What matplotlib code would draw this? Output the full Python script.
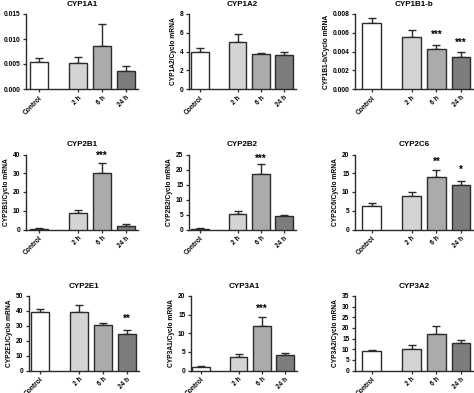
import matplotlib
matplotlib.use("Agg")
import matplotlib.pyplot as plt
import numpy as np

plt.rcParams['font.family'] = ['Liberation Sans', 'DejaVu Sans']
plt.rcParams['font.weight'] = 'bold'

groups = ["Control", "2 h", "6 h", "24 h"]
genes = ["CYP1A1", "CYP1A2", "CYP1B1-b",
         "CYP2B1", "CYP2B2", "CYP2C6",
         "CYP2E1", "CYP3A1", "CYP3A2"]

cyp1a1_mean = [0.0055, 0.0053, 0.0087, 0.0036]
cyp1a1_err = [0.0007, 0.0012, 0.0043, 0.0011]
cyp1a2_mean = [3.98, 4.98, 3.74, 3.60]
cyp1a2_err = [0.40, 0.86, 0.14, 0.30]
cyp1b1_mean = [0.00704, 0.0056, 0.00429, 0.00339]
cyp1b1_err = [0.0005, 0.0007, 0.0004, 0.00054]
cyp2b1_mean = [0.4, 8.75, 30.2, 2.1]
cyp2b1_err = [0.2, 1.75, 5.3, 0.8]
cyp2b2_mean = [0.33, 5.2, 18.5, 4.4]
cyp2b2_err = [0.2, 1.1, 3.2, 0.6]
cyp2c6_mean = [6.2, 8.9, 14.0, 11.8]
cyp2c6_err = [1.0, 1.1, 1.9, 1.1]
cyp2e1_mean = [39.3, 39.5, 30.4, 24.6]
cyp2e1_err = [1.8, 4.7, 1.7, 2.9]
cyp3a1_mean = [1.06, 3.6, 11.9, 4.2]
cyp3a1_err = [0.25, 0.7, 2.5, 0.4]
cyp3a2_mean = [9.1, 10.2, 17.1, 13.0]
cyp3a2_err = [0.5, 1.9, 3.8, 1.3]

stars = [
    ["", "", "", ""], ["", "", "", ""], ["", "", "***", "***"],
    ["", "", "***", ""], ["", "", "***", ""], ["", "", "**", "*"],
    ["", "", "", "**"], ["", "", "***", ""], ["", "", "", ""],
]
ymax = [0.015, 8, 0.008, 40, 25, 20, 50, 20, 35]
ystep = [0.005, 2, 0.002, 10, 5, 5, 10, 5, 5]
yfmt = ["{:.3f}", "{:g}", "{:.3f}", "{:g}", "{:g}", "{:g}", "{:g}", "{:g}", "{:g}"]
star_y = [None, None, [None, None, 0.00583, 0.00494], [None, None, 39.2, None],
          [None, None, 23.6, None], [None, None, 18.0, 15.9], [None, None, None, 34.8],
          [None, None, 16.6, None], None]

means = [cyp1a1_mean, cyp1a2_mean, cyp1b1_mean, cyp2b1_mean, cyp2b2_mean,
         cyp2c6_mean, cyp2e1_mean, cyp3a1_mean, cyp3a2_mean]
errs = [cyp1a1_err, cyp1a2_err, cyp1b1_err, cyp2b1_err, cyp2b2_err,
        cyp2c6_err, cyp2e1_err, cyp3a1_err, cyp3a2_err]

xpos = np.array([0, 1.625, 2.625, 3.625])
colors = ["#ffffff", "#d4d4d4", "#ababab", "#7d7d7d"]
edge = "#2b2b2b"

W, H = 474, 393
fig = plt.figure(figsize=(W / 100, H / 100), dpi=100)

col_left = [[26, 189, 355], [26, 189, 355], [29, 191, 355]]
col_ppu = [24.0, 23.2, 24.7]
col_ctrl = [[39, 200, 371.5], [39, 200, 371.5], [40, 201, 371.5]]
row_tb = [(14, 89), (154.5, 229.5), (296, 370.5)]

for i, gene in enumerate(genes):
    r, c = divmod(i, 3)
    left = col_left[r][c]
    ppu = col_ppu[c]
    ctrl = col_ctrl[r][c]
    xl = -(ctrl - left) / ppu
    xr = 4.125
    width_px = (xr - xl) * ppu
    top, bot = row_tb[r]
    ax = fig.add_axes([left / W, 1 - bot / H, width_px / W, (bot - top) / H])
    ax.bar(xpos, means[i], width=0.75, color=colors, edgecolor=edge, linewidth=1.0, zorder=3)
    ax.errorbar(xpos, means[i], yerr=[np.zeros(4), errs[i]], fmt='none',
                ecolor=edge, elinewidth=1.0, capsize=3, capthick=1.0, zorder=2)
    ax.set_xlim(xl, xr)
    ax.set_ylim(0, ymax[i])
    ticks = np.arange(0, ymax[i] + ystep[i] / 2, ystep[i])
    ax.set_yticks(ticks)
    ax.set_yticklabels([yfmt[i].format(t) for t in ticks], fontsize=4.8, fontweight='bold')
    ax.set_xticks(xpos)
    ax.set_xticklabels(groups, rotation=45, ha='right', rotation_mode='anchor',
                       fontsize=4.8, fontweight='bold')
    ax.tick_params(axis='both', length=2.5, width=0.9, pad=1.5, color=edge)
    for s in ['top', 'right']:
        ax.spines[s].set_visible(False)
    for s in ['left', 'bottom']:
        ax.spines[s].set_linewidth(1.0)
        ax.spines[s].set_color(edge)
    ax.set_title(gene, fontsize=5.8, fontweight='bold', pad=6)
    ax.set_ylabel(gene + "/Cyclo mRNA", fontsize=4.8, fontweight='bold', labelpad=2)
    if star_y[i] is not None:
        for j in range(4):
            if stars[i][j]:
                ax.text(xpos[j], star_y[i][j], stars[i][j], ha='center', va='center',
                        fontsize=7, fontweight='bold', clip_on=False)

fig.savefig("out.png", dpi=100)
